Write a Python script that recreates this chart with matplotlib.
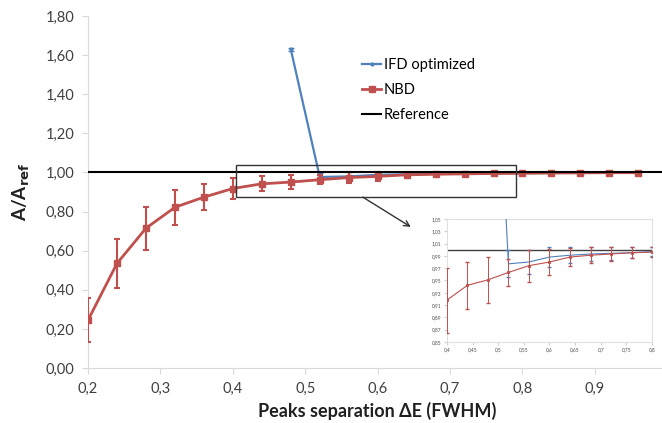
import numpy as np
import matplotlib
matplotlib.use('Agg')
import matplotlib.pyplot as plt
from matplotlib.patches import Rectangle
from matplotlib.lines import Line2D
from matplotlib.ticker import FuncFormatter, MultipleLocator

plt.rcParams['font.family'] = ['Lato', 'DejaVu Sans']

# 数据
nbd_x = [0.20, 0.24, 0.28, 0.32, 0.36, 0.40, 0.44, 0.48, 0.52, 0.56,
         0.60, 0.64, 0.68, 0.72, 0.76, 0.80, 0.84, 0.88, 0.92, 0.96]
nbd_y = [0.245, 0.535, 0.715, 0.822, 0.874, 0.918, 0.942, 0.951, 0.963, 0.974,
         0.980, 0.988, 0.991, 0.993, 0.995, 0.996, 0.997, 0.998, 0.999, 0.999]
nbd_err = [0.113, 0.125, 0.110, 0.090, 0.066, 0.053, 0.038, 0.037, 0.022, 0.026,
           0.021, 0.015, 0.013, 0.012, 0.009, 0.008, 0.006, 0.005, 0.004, 0.003]

ifd_x = [0.48, 0.52, 0.56, 0.60, 0.64, 0.68, 0.72, 0.76, 0.80, 0.84, 0.88, 0.92, 0.96]
ifd_y = [1.630, 0.977, 0.980, 0.988, 0.991, 0.993, 0.994, 0.995, 0.997, 0.998, 0.999, 0.999, 1.000]
ifd_err = [0.008, 0.022, 0.020, 0.016, 0.013, 0.012, 0.010, 0.009, 0.008, 0.006, 0.005, 0.005, 0.004]

ref_value = 1.0
x_ticks = [0.2, 0.3, 0.4, 0.5, 0.6, 0.7, 0.8, 0.9]
inset_x_ticks = [0.4, 0.45, 0.5, 0.55, 0.6, 0.65, 0.7, 0.75, 0.8]
inset_y_ticks = [0.85, 0.87, 0.89, 0.91, 0.93, 0.95, 0.97, 0.99, 1.01, 1.03, 1.05]

blue = '#4F81BD'
red = '#C0504D'
grey = '#D9D9D9'

fig = plt.figure(figsize=(6.62, 4.23), dpi=100)
ax = fig.add_axes([0.133, 0.130, 0.875, 0.832])

ax.errorbar(ifd_x, ifd_y, yerr=ifd_err, color=blue, lw=1.6, marker='o', ms=2,
            capsize=2, elinewidth=1.2, zorder=3)
ax.errorbar(nbd_x, nbd_y, yerr=nbd_err, color=red, lw=2, marker='s', ms=4.5,
            capsize=2, elinewidth=1.5, capthick=1.5, zorder=4)
ax.axhline(ref_value, color='black', lw=1.5, zorder=5)

ax.set_xlim(0.2, 1.0)
ax.set_ylim(0, 1.8)
ax.set_xticks(x_ticks)
ax.yaxis.set_major_locator(MultipleLocator(0.2))
ax.xaxis.set_major_formatter(FuncFormatter(lambda v, p: f'{v:.1f}'.replace('.', ',')))
ax.yaxis.set_major_formatter(FuncFormatter(lambda v, p: f'{v:.2f}'.replace('.', ',')))
for s in ['top', 'right']:
    ax.spines[s].set_visible(False)
for s in ['left', 'bottom']:
    ax.spines[s].set_color(grey)
ax.tick_params(colors=grey, labelcolor='#404040', labelsize=10.5, length=4)
ax.tick_params(axis='x', pad=6)
ax.tick_params(axis='y', pad=6)

ax.set_xlabel('Peaks separation ΔE (FWHM)', fontsize=13, fontweight='bold', color='#202020')
ax.set_ylabel(r'A/A$_{\mathbf{ref}}$', fontsize=13.5, fontweight='bold', color='#202020', labelpad=10)

handles = [Line2D([], [], color=blue, lw=1.6, marker='o', ms=2),
           Line2D([], [], color=red, lw=2, marker='s', ms=4),
           Line2D([], [], color='black', lw=1.5)]
fig.legend(handles, ['IFD optimized', 'NBD', 'Reference'], loc='upper left',
           bbox_to_anchor=(0.547, 0.862), bbox_transform=fig.transFigure,
           frameon=False, fontsize=10.5, handlelength=1.3, handletextpad=0.2,
           labelspacing=0.75, borderpad=0, borderaxespad=0)

# 放大框 + 箭头
ax.add_patch(Rectangle((0.404, 0.875), 0.387, 0.165, fill=False, ec='#333333', lw=1, zorder=6))
ax.annotate('', xy=(0.649, 0.714), xytext=(0.576, 0.882),
            arrowprops=dict(arrowstyle='->', color='#333333', lw=1))

# 插图
ins = fig.add_axes([0.675, 0.1915, 0.310, 0.291])
ins.errorbar(ifd_x, ifd_y, yerr=ifd_err, color=blue, lw=0.8, capsize=1.5, elinewidth=0.7, zorder=3)
ins.errorbar(nbd_x, nbd_y, yerr=nbd_err, color=red, lw=0.8, marker='s', ms=1.2,
             capsize=1.5, elinewidth=0.7, zorder=4)
ins.axhline(ref_value, color='#404040', lw=1, zorder=2)
ins.set_xlim(0.4, 0.8)
ins.set_ylim(0.85, 1.05)
ins.set_xticks(inset_x_ticks)
ins.set_yticks(inset_y_ticks)
ins.xaxis.set_major_formatter(FuncFormatter(lambda v, p: f'{v:.2f}'.rstrip('0').replace('.', ',')))
ins.yaxis.set_major_formatter(FuncFormatter(lambda v, p: f'{v:.2f}'.replace('.', ',')))
for s in ins.spines.values():
    s.set_color('#E0E0E0')
    s.set_linewidth(0.8)
ins.tick_params(colors='#D0D0D0', labelcolor='#505050', labelsize=3.5, length=2, pad=2)

fig.savefig('out.png', dpi=100)
